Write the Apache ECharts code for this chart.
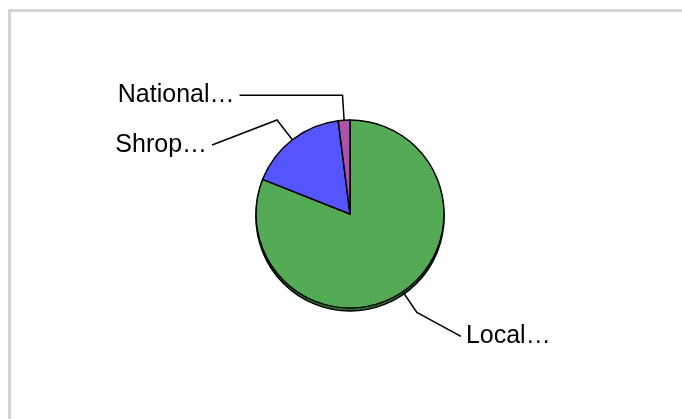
<!DOCTYPE html>
<html>
<head>
<meta charset="utf-8">
<script src="https://cdn.jsdelivr.net/npm/echarts@6/dist/echarts.min.js"></script>
<style>
  html, body { margin: 0; padding: 0; background: #ffffff; }
  #frame { position: absolute; left: 8px; top: 9px; width: 700px; height: 430px;
           border-left: 3px solid #d5d5d5; border-top: 3px solid #d5d5d5; }
  #chart { position: absolute; left: 0; top: 0; width: 682px; height: 419px; }
</style>
</head>
<body>
<div id="frame"></div>
<div id="chart"></div>
<script>
// Data
var categories = ['Local…', 'Shrop…', 'National…'];
var values = [81, 17, 2];
var colors = ['#55aa55', '#5555ff', '#aa55aa'];
var shadowColors = ['#2d6e2d', '#2d2d9e', '#6e2d6e'];
var labelLine2 = [44, 65, 103];
var labelShift = [24, 25, 0];

var chart = echarts.init(document.getElementById('chart'), null, { renderer: 'canvas' });

var mainData = categories.map(function (c, i) {
  return {
    name: c,
    value: values[i],
    itemStyle: { color: colors[i] },
    labelLine: { length2: labelLine2[i] }
  };
});
var shadowData = categories.map(function (c, i) {
  return { name: c, value: values[i], itemStyle: { color: shadowColors[i] } };
});

chart.setOption({
  animation: false,
  backgroundColor: 'transparent',
  series: [
    {
      type: 'pie',
      silent: true,
      center: [350, 217],
      radius: 94,
      startAngle: 90,
      clockwise: true,
      label: { show: false },
      labelLine: { show: false },
      itemStyle: { borderColor: '#000', borderWidth: 1.5 },
      data: shadowData,
      z: 1
    },
    {
      type: 'pie',
      center: [350, 214],
      radius: 94,
      startAngle: 90,
      clockwise: true,
      avoidLabelOverlap: false,
      itemStyle: { borderColor: '#000', borderWidth: 1.5 },
      label: {
        show: true,
        position: 'outside',
        formatter: '{b}',
        fontFamily: 'Liberation Sans, Arial, sans-serif',
        fontSize: 25,
        color: '#000'
      },
      labelLine: {
        show: true,
        length: 25,
        lineStyle: { color: '#000', width: 1.5 }
      },
      labelLayout: function (params) {
        var s = labelShift[params.dataIndex];
        var pts = params.labelLinePoints;
        var out = { dy: s };
        if (pts && pts.length === 3) {
          out.labelLinePoints = [
            [pts[0][0], pts[0][1]],
            [pts[1][0], pts[1][1]],
            [pts[2][0], pts[2][1] + s]
          ];
        }
        return out;
      },
      emphasis: { disabled: true },
      data: mainData,
      z: 2
    }
  ]
});
</script>
</body>
</html>
